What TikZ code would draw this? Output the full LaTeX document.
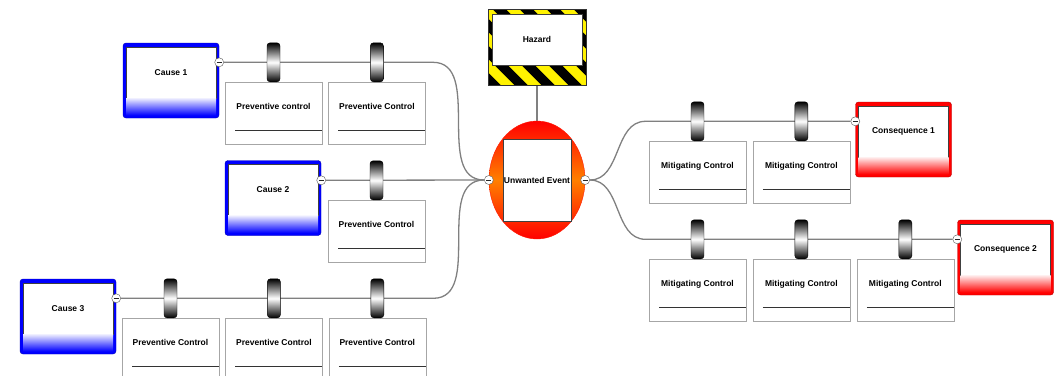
\documentclass[tikz,border=0pt]{standalone}
\usepackage{fontspec}
\setmainfont{Liberation Sans}
\usetikzlibrary{positioning,shapes.geometric,backgrounds,shadows}

\tikzset{
	lbl/.style={font=\fontsize{8.5}{10}\selectfont\bfseries},
	boxframe/.style={rounded corners=3pt, minimum width=96pt, minimum height=75pt, inner sep=0pt},
	cause/.style={boxframe, draw=blue!70!black, fill=blue},
	conseq/.style={boxframe, draw=red!70!black, fill=red},
	bluestrip/.style={minimum width=90pt, minimum height=17pt, inner sep=0pt,
		top color=blue!8, middle color=blue!90, bottom color=blue},
	redstrip/.style={minimum width=90pt, minimum height=17pt, inner sep=0pt,
		top color=red!8, middle color=red!90, bottom color=red},
	inbox/.style={lbl, draw=gray!50!black, fill=white, minimum width=90pt, minimum height=51pt, inner sep=0pt},
	hazard/.style={draw=gray!40!black, fill=yellow, minimum width=98pt, minimum height=76pt, inner sep=0pt,
		path picture={\foreach \k in {-5,...,5}
			\draw[black, line width=9.5pt] ([xshift=\k*27pt-45pt, yshift=45pt]path picture bounding box.center) -- ++(90pt,-90pt);}},
	event/.style={ellipse, draw=red!80!orange, top color=red, bottom color=red, middle color=orange,
		minimum width=96pt, minimum height=118pt, inner sep=0pt},
	ctrl/.style={lbl, draw=gray!70, fill=white, minimum width=97pt, inner sep=0pt,
		text height=27.5pt, text depth=34.5pt,
		drop shadow={opacity=0.25, shadow xshift=1pt, shadow yshift=-1pt},
		path picture={\draw[gray!40!black]
			([xshift=10pt,yshift=-48pt]path picture bounding box.north west) --
			([yshift=-48pt]path picture bounding box.north east);}},
	barrier/.style={draw=black, rounded corners=3pt, minimum width=13pt, minimum height=39pt, inner sep=0pt,
		top color=black, bottom color=black, middle color=white},
	knob/.style={circle, draw=gray!70!black, fill=white, minimum size=9pt, inner sep=0pt,
		path picture={\draw[gray!30!black] ([xshift=-2.5pt]path picture bounding box.center) --
			([xshift=2.5pt]path picture bounding box.center);}},
	link/.style={draw=gray, line width=1.3pt},
}

\begin{document}
\begin{tikzpicture}[x=1pt,y=-1pt]
	\useasboundingbox (0,0) rectangle (1055,375);

	% Hazard and top event
	\node[hazard] (hz) at (537,47) {};
	\node[inbox, below=5pt of hz.north] (hzin) {Hazard};
	\node[event] (ev) at (537,180) {};
	\node[inbox, minimum width=68pt, minimum height=82pt] (evin) at (ev) {Unwanted Event};
	\node[knob] (evl) at (ev.west) {};
	\node[knob] (evr) at (ev.east) {};

	% Causes
	\node[cause] (c1) at (171,80.5) {};
	\node[inbox, below=4pt of c1.north] (c1in) {Cause 1};
	\node[bluestrip, below=0pt of c1in] (c1s) {};
	\node[cause] (c2) at (273,198) {};
	\node[inbox, below=4pt of c2.north] (c2in) {Cause 2};
	\node[bluestrip, below=0pt of c2in] (c2s) {};
	\node[cause] (c3) at (68,316.5) {};
	\node[inbox, below=4pt of c3.north] (c3in) {Cause 3};
	\node[bluestrip, below=0pt of c3in] (c3s) {};

	% Preventive controls
	\node[ctrl, anchor=north] (p11) at (273.5,82) {Preventive control};
	\node[ctrl, right=6pt of p11] (p12) {Preventive Control};
	\node[ctrl, anchor=north] (p21) at (376.5,200) {Preventive Control};
	\node[ctrl, anchor=north] (p31) at (170.5,318) {Preventive Control};
	\node[ctrl, right=6pt of p31] (p32) {Preventive Control};
	\node[ctrl, right=6pt of p32] (p33) {Preventive Control};
	\node[barrier, above=0pt of p11] (b11) {};
	\node[barrier, above=0pt of p12] (b12) {};
	\node[barrier, above=0pt of p21] (b21) {};
	\node[barrier, above=0pt of p31] (b31) {};
	\node[barrier, above=0pt of p32] (b32) {};
	\node[barrier, above=0pt of p33] (b33) {};
	\node[knob] (c1k) at (c1.east |- b11) {};
	\node[knob] (c2k) at (c2.east |- b21) {};
	\node[knob] (c3k) at (c3.east |- b31) {};

	% Consequences
	\node[conseq] (q1) at (903.5,139.5) {};
	\node[inbox, below=4pt of q1.north] (q1in) {Consequence 1};
	\node[redstrip, below=0pt of q1in] (q1s) {};
	\node[conseq] (q2) at (1005.5,257.5) {};
	\node[inbox, below=4pt of q2.north] (q2in) {Consequence 2};
	\node[redstrip, below=0pt of q2in] (q2s) {};

	% Mitigating controls
	\node[ctrl, anchor=north] (r11) at (697.5,141) {Mitigating Control};
	\node[ctrl, right=6.5pt of r11] (r12) {Mitigating Control};
	\node[ctrl, anchor=north] (r21) at (697.5,259) {Mitigating Control};
	\node[ctrl, right=6.5pt of r21] (r22) {Mitigating Control};
	\node[ctrl, right=6.5pt of r22] (r23) {Mitigating Control};
	\node[barrier, above=0pt of r11] (m11) {};
	\node[barrier, above=0pt of r12] (m12) {};
	\node[barrier, above=0pt of r21] (m21) {};
	\node[barrier, above=0pt of r22] (m22) {};
	\node[barrier, above=0pt of r23] (m23) {};
	\node[knob] (q1k) at (q1.west |- m11) {};
	\node[knob] (q2k) at (q2.west |- m21) {};

	% Verbindungen
	\begin{scope}[on background layer]
		\draw[link] (hz) -- (ev);
		\draw[link] (c1k) -- ([xshift=56pt]b12.center) to[out=0,in=180] (evl);
		\draw[link] (c2k) -- (evl);
		\draw[link] (c3k) -- ([xshift=56pt]b33.center) to[out=0,in=180] (evl);
		\draw[link] (evr) to[out=0,in=180] ([xshift=-52pt]m11.center) -- (q1k);
		\draw[link] (evr) to[out=0,in=180] ([xshift=-52pt]m21.center) -- (q2k);
	\end{scope}
\end{tikzpicture}
\end{document}
